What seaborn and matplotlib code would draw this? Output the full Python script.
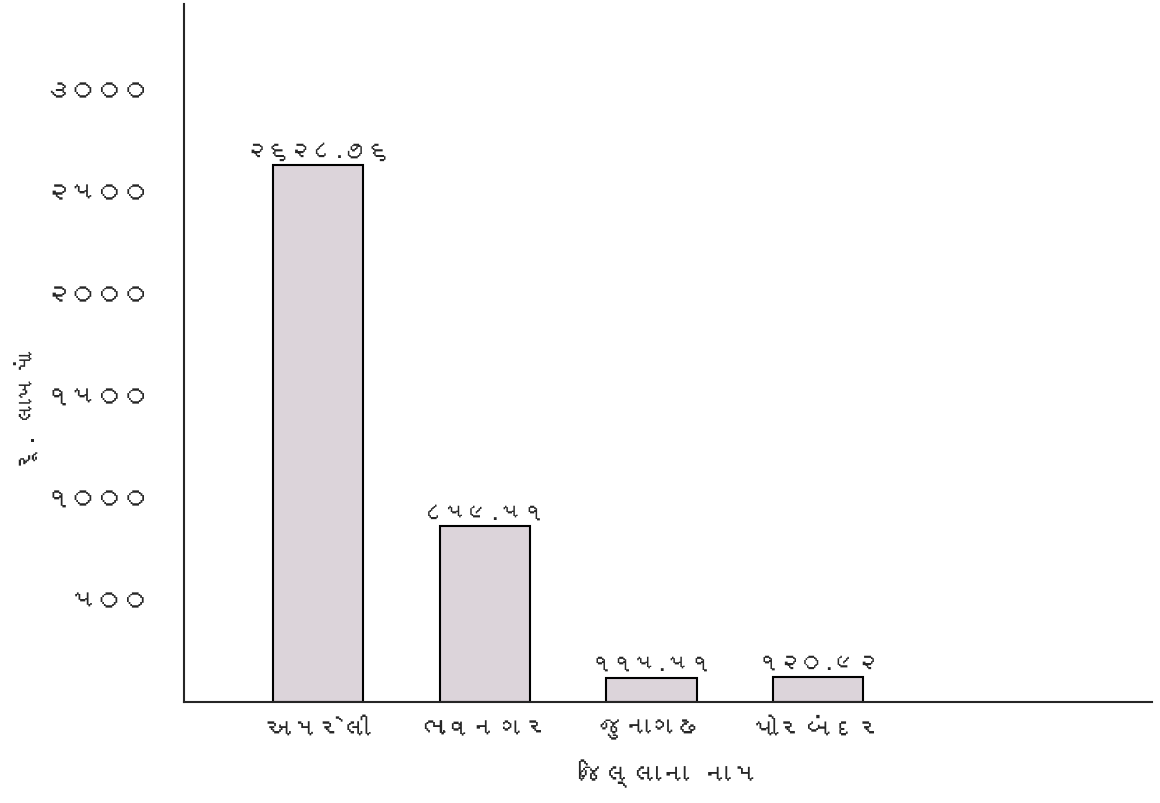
import matplotlib
matplotlib.use("Agg")
import matplotlib.pyplot as plt
from matplotlib import font_manager
import seaborn as sns
import pandas as pd

districts = ["અમરેલી", "ભાવનગર", "જુનાગઢ", "પોરબંદર"]
amounts = [2628.76, 859.51, 115.51, 120.92]
bar_labels = ["૨૬૨૮.૭૬", "૮૫૯.૫૧", "૧૧૫.૫૧", "૧૨૦.૯૨"]
y_ticks = [500, 1000, 1500, 2000, 2500, 3000]
y_tick_labels = ["૫૦૦", "૧૦૦૦", "૧૫૦૦", "૨૦૦૦", "૨૫૦૦", "૩૦૦૦"]

# look for any installed font that has Gujarati glyphs
guj = None
try:
    from fontTools.ttLib import TTFont
    for f in font_manager.fontManager.ttflist:
        try:
            tt = TTFont(f.fname, fontNumber=0, lazy=True)
            if 0x0A85 in tt.getBestCmap():
                guj = f.name
                break
        except Exception:
            pass
except Exception:
    pass

sns.set_style("white")
families = ([guj] if guj else []) + ["Noto Sans", "DejaVu Sans"]
plt.rcParams["font.family"] = families

df = pd.DataFrame({"district": districts, "amount": amounts})

fig = plt.figure(figsize=(11.6, 8.04), dpi=100)
ax = fig.add_axes([0.159, 0.126, 0.834, 0.868])
sns.barplot(data=df, x="district", y="amount", color="#ddd3da", width=0.54,
            edgecolor="black", linewidth=1.5, ax=ax)

for i, (v, lab) in enumerate(zip(amounts, bar_labels)):
    ax.text(i, v + 25, lab, ha="center", va="bottom", fontsize=16)

ax.set_xlim(-0.8, 5.0)
ax.set_ylim(0, 3420)
ax.set_yticks(y_ticks)
ax.set_yticklabels(y_tick_labels, fontsize=19)
ax.tick_params(axis="y", length=0, pad=24)
ax.tick_params(axis="x", length=0, pad=12, labelsize=19)
ax.set_xlabel("જિલ્લાના નામ", fontsize=20, labelpad=14)
ax.set_ylabel("રૂ. લાખમાં", fontsize=17)
ax.yaxis.set_label_coords(-0.15, 0.42)
for s in ["top", "right"]:
    ax.spines[s].set_visible(False)
ax.spines["left"].set_linewidth(1.5)
ax.spines["bottom"].set_linewidth(1.5)

fig.savefig("out.png", dpi=100)
